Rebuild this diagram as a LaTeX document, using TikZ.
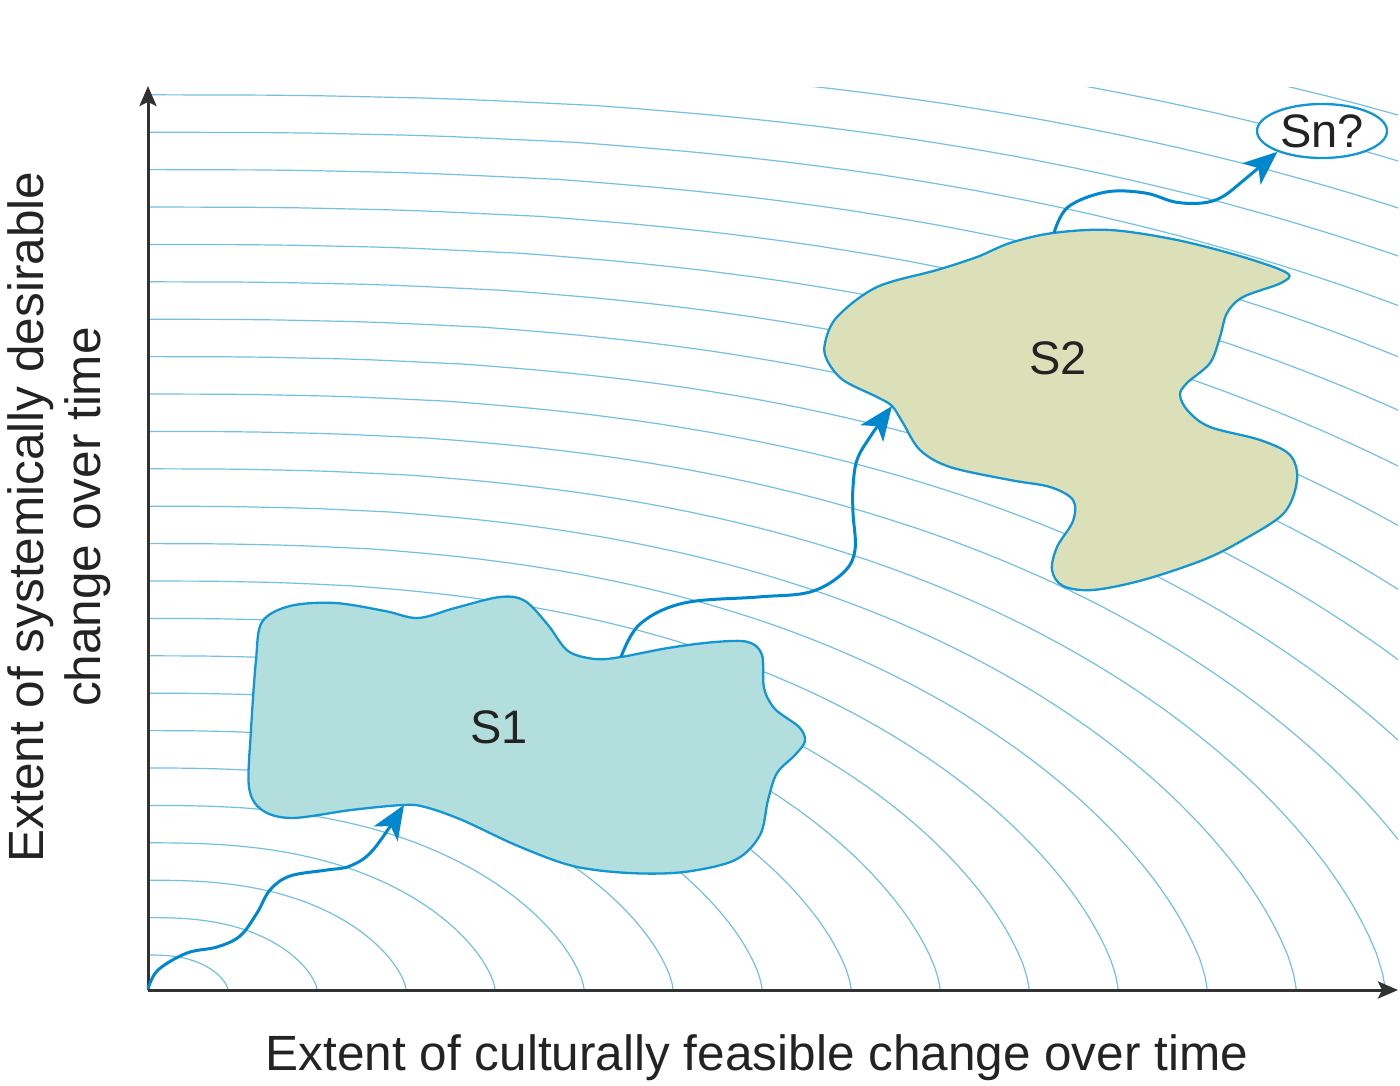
\documentclass[tikz,border=0pt]{standalone}
\usepackage{fontspec}
\setmainfont{Liberation Sans}
\usetikzlibrary{arrows.meta,shapes.geometric}
\definecolor{arcc}{RGB}{115,192,225}
\definecolor{blobline}{RGB}{20,150,210}
\definecolor{flowc}{RGB}{0,135,205}
\definecolor{sonefill}{RGB}{178,222,221}
\definecolor{stwofill}{RGB}{219,224,185}
\definecolor{axisc}{RGB}{50,50,50}
\definecolor{txt}{RGB}{35,35,35}
\begin{document}
\begin{tikzpicture}[x=1pt,y=-1pt,
  arcline/.style={draw=arcc, line width=1.2pt},
  axisline/.style={draw=axisc, line width=3pt, -{Stealth[length=20pt,width=17pt,inset=4pt]}},
  blob/.style={draw=blobline, line width=2.3pt},
  flow/.style={draw=flowc, line width=3pt, -{Stealth[length=34pt,width=28pt,inset=9pt]}},
  lbl/.style={font=\fontsize{47}{56}\selectfont, text=txt, inner sep=0pt},
  axlbl/.style={font=\fontsize{49.5}{58}\selectfont, text=txt, inner sep=0pt}
]
\useasboundingbox (0,0) rectangle (1400,1086);
% concentric arcs
\begin{scope}
\clip (148,88) rectangle (1398,990);
\begin{scope}[shift={(148,990)}, y=1pt]
\foreach \k in {0,...,26}{
  \pgfmathsetmacro\A{80+89*\k}
  \pgfmathsetmacro\B{35+37.4*\k}
  \draw[arcline] (\A,0) -- plot[domain=0.5:89.5, samples=100, variable=\t] ({\A*pow(cos(\t),0.784)},{\B*pow(sin(\t),1.3333)}) -- (0,\B);
}
\end{scope}
\end{scope}
% axes
\coordinate (O) at (148,990);
\coordinate (ytop) at (148,86);
\coordinate (xend) at (1398,990);
\draw[axisline] (O) -- (ytop);
\draw[axisline] (O) -- (xend);
% S1 blob
\draw[blob, fill=sonefill] plot[smooth cycle, tension=0.55] coordinates {
(262,622) (290,606) (335,603) (385,611) (418,618) (455,608) (500,597) (525,601)
(548,625) (568,651) (595,659) (621,657) (668,648) (715,642) (748,642) (762,655)
(764,688) (775,709) (799,727) (805,741) (795,755) (777,773) (768,800) (760,835)
(735,860) (684,872) (629,873) (573,866) (518,846) (462,820) (425,807) (403,805)
(351,810) (292,818) (262,810) (249,787) (251,730) (256,660)};
% S2 blob
\draw[blob, fill=stwofill] plot[smooth cycle, tension=0.55] coordinates {
(825,343) (837,317) (877,287) (937,270) (977,257) (1010,243) (1053,233) (1110,230)
(1177,240) (1243,257) (1287,273) (1281,283) (1243,297) (1227,313) (1220,337)
(1210,363) (1187,383) (1180,395) (1188,411) (1210,427) (1260,440) (1290,455)
(1297,480) (1284,513) (1243,540) (1203,560) (1143,580) (1093,590) (1063,586)
(1052,570) (1057,547) (1073,521) (1073,500) (1050,487) (1010,480) (950,467)
(920,450) (903,423) (892,406) (877,397) (843,380) (827,360)};
% labels
\node[lbl] (s1) at (499,727) {S1};
\node[lbl] (s2) at (1058,358) {S2};
\node[lbl, draw=blobline, fill=white, ellipse, line width=2.3pt, minimum width=130pt, minimum height=54pt] (sn) at (1322,131) {Sn?};
% flows
\coordinate (a1s) at (148,989);
\coordinate (a1e) at (404,805);
\coordinate (a2s) at (621,657);
\coordinate (a2e) at (892,406);
\coordinate (a3s) at (1054,233);
\draw[flow] plot[smooth, tension=0.6] coordinates {(a1s) (158,970) (187,953) (217,947) (240,936) (257,913) (270,890) (290,876) (327,870) (350,866) (373,850) (a1e)};
\draw[flow] plot[smooth, tension=0.6] coordinates {(a2s) (640,624) (684,603) (758,597) (810,592) (843,573) (855,550) (853,513) (853,487) (857,460) (870,437) (a2e)};
\draw[flow] plot[smooth, tension=0.6] coordinates {(a3s) (1068,207) (1106,192) (1145,193) (1175,202) (1202,203) (1222,197) (1244,180) (sn.205)};
% axis titles
\node[axlbl, anchor=base] (xlab) at (757,1070) {Extent of culturally feasible change over time};
\node[axlbl, rotate=90, anchor=base] (ylab1) at (43,517) {Extent of systemically desirable};
\node[axlbl, rotate=90, anchor=base] (ylab2) at (100,517) {change over time};
\end{tikzpicture}
\end{document}
